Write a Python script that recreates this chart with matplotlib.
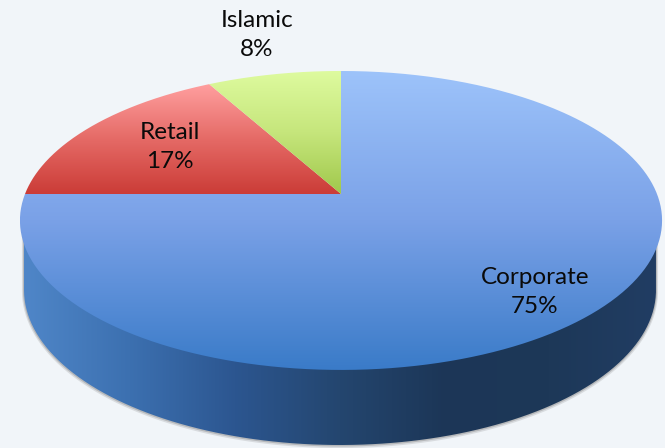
import numpy as np
import matplotlib
matplotlib.use('Agg')
import matplotlib.pyplot as plt
from matplotlib.colors import LinearSegmentedColormap
from matplotlib.patches import PathPatch
from matplotlib.path import Path

# Pie data
labels = ['Corporate', 'Retail', 'Islamic']
values = [75, 17, 8]
label_pos = [(535, 292), (170, 147), (257, 35)]
top_colors = [['#9dc3fa', '#7aa1e7', '#3a7bc8'],
              ['#ff9f9f', '#e56a66', '#cb3c37'],
              ['#deFb9f', '#c6e67c', '#a0c84c']]
side_colors = ['#4f86c8', '#3c70b0', '#2c5690', '#24466f', '#1c3657', '#1d3858', '#213d63']

plt.rcParams['font.family'] = ['Lato', 'DejaVu Sans']

fig = plt.figure(figsize=(6.65, 4.48), dpi=100, facecolor='#f1f5f9')
ax = fig.add_axes([0, 0, 1, 1])
ax.set_xlim(0, 665)
ax.set_ylim(448, 0)
ax.axis('off')

# perspective of the disc, apex sits above the ellipse centre
cx, cy = 341, 194
d, c, k = 316, 144.8, 0.177

def project(theta):
    x = np.sin(theta)
    y = np.cos(theta)
    w = 1 + k * y
    return cx + d * x / w, cy - c * y / w

def gradient_fill(path, colors, horizontal=False, zorder=2):
    cmap = LinearSegmentedColormap.from_list('g', colors)
    box = path.get_extents()
    grad = np.linspace(0, 1, 256)
    grad = grad.reshape(1, -1) if horizontal else grad.reshape(-1, 1)
    im = ax.imshow(grad, cmap=cmap, aspect='auto', interpolation='bilinear', zorder=zorder,
                   extent=[box.x0, box.x1, box.y1, box.y0])
    patch = PathPatch(path, transform=ax.transData, fc='none', ec='none')
    ax.add_patch(patch)
    im.set_clip_path(patch)

# side of the disc
t = np.linspace(np.pi / 2, 3 * np.pi / 2, 200)
side_x = 340 + 316 * np.sin(t)
side_y = 290 - 155 * np.cos(t)
side_pts = np.vstack([[[656, 215]], np.column_stack([side_x, side_y]), [[24, 215]], [[656, 215]]])
side_path = Path(side_pts)
# soft shadow under the rim
ax.add_patch(PathPatch(Path(side_pts + [0, 1]), fc='none', ec='#777777', lw=3, alpha=0.2, zorder=1))
ax.add_patch(PathPatch(Path(side_pts + [0, 0.5]), fc='none', ec='#777777', lw=1.5, alpha=0.35, zorder=1))
gradient_fill(side_path, side_colors, horizontal=True, zorder=1.5)

# top wedges, clockwise from 12 o'clock, corporate first
fractions = np.array(values) / np.sum(values)
edges = np.cumsum(np.concatenate([[0], fractions])) * 2 * np.pi
for i in range(len(values)):
    theta = np.linspace(edges[i], edges[i + 1], 300)
    px, py = project(theta)
    pts = np.vstack([[[cx, cy]], np.column_stack([px, py]), [[cx, cy]]])
    gradient_fill(Path(pts), top_colors[i], zorder=2 + i * 0.1)

for i in range(len(labels)):
    ax.text(label_pos[i][0], label_pos[i][1], labels[i] + '\n' + str(values[i]) + '%', ha='center', va='center',
            fontsize=17.5, color='#0a0a0a', linespacing=1.5, zorder=5)

ax.set_xlim(0, 665)
ax.set_ylim(448, 0)
fig.savefig('out.png', dpi=100, facecolor=fig.get_facecolor())
